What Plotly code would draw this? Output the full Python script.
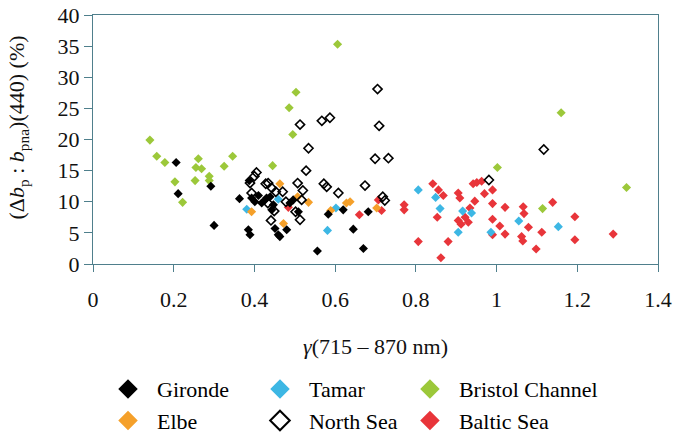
import plotly.graph_objects as go

# ---- data ----
gironde_x = [0.206, 0.211, 0.292, 0.300, 0.363, 0.385, 0.389, 0.387, 0.393, 0.401, 0.410, 0.418, 0.425,
             0.430, 0.439, 0.443, 0.447, 0.451, 0.459, 0.463, 0.480, 0.488, 0.496, 0.509, 0.556,
             0.583, 0.620, 0.645, 0.670, 0.682]
gironde_y = [16.3, 11.3, 12.5, 6.2, 10.5, 5.5, 4.7, 13.4, 10.6, 10.0, 11.0, 9.8, 10.2,
             10.6, 10.8, 8.7, 9.5, 5.7, 4.7, 4.4, 5.5, 9.8, 10.3, 8.4, 2.1,
             8.0, 8.7, 5.6, 2.5, 8.4]

elbe_x = [0.393, 0.463, 0.472, 0.507, 0.534, 0.589, 0.628, 0.637, 0.703]
elbe_y = [8.4, 12.9, 6.5, 10.8, 9.9, 8.6, 9.8, 10.0, 9.0]

tamar_x = [0.381, 0.459, 0.581, 0.602, 0.806, 0.849, 0.860, 0.905, 0.916, 0.938, 0.986, 1.055, 1.153]
tamar_y = [8.8, 10.4, 5.4, 9.0, 11.9, 10.7, 8.9, 5.1, 8.5, 8.2, 5.1, 6.9, 6.0]

northsea_x = [0.389, 0.393, 0.400, 0.405, 0.434, 0.428, 0.433, 0.443, 0.441, 0.449, 0.453, 0.470,
              0.478, 0.502, 0.507, 0.513, 0.517, 0.520, 0.528, 0.534, 0.513, 0.567, 0.587, 0.572,
              0.579, 0.608, 0.674, 0.699, 0.705, 0.709, 0.718, 0.723, 0.732, 0.981, 1.117]
northsea_y = [13.0, 11.4, 14.1, 14.7, 13.0, 12.9, 9.8, 12.2, 7.0, 8.5, 11.6, 11.6,
              10.0, 8.4, 13.0, 7.1, 10.3, 11.8, 15.0, 18.6, 22.4, 23.0, 23.5, 12.9,
              12.4, 11.4, 12.6, 16.9, 28.1, 22.2, 10.8, 10.2, 17.0, 13.5, 18.4]

bristol_x = [0.141, 0.158, 0.178, 0.203, 0.222, 0.253, 0.255, 0.261, 0.269, 0.288, 0.288, 0.325,
             0.346, 0.445, 0.486, 0.495, 0.503, 0.606, 1.002, 1.114, 1.160, 1.322]
bristol_y = [19.9, 17.3, 16.3, 13.2, 9.9, 13.4, 15.5, 16.9, 15.3, 14.1, 13.4, 15.7,
             17.3, 15.8, 25.1, 20.8, 27.6, 35.3, 15.5, 8.9, 24.3, 12.3]

baltic_x = [0.484, 0.660, 0.707, 0.715, 0.771, 0.771, 0.806, 0.842, 0.856, 0.868, 0.853, 0.880,
            0.862, 0.905, 0.909, 0.922, 0.905, 0.912, 0.930, 0.934, 0.942, 0.951, 0.963, 0.946,
            0.970, 0.990, 0.990, 0.990, 0.990, 1.008, 1.021, 1.021, 1.066, 1.068, 1.079, 1.062,
            1.065, 1.098, 1.112, 1.139, 1.194, 1.194, 1.289]
baltic_y = [9.1, 7.9, 10.3, 8.6, 9.5, 8.7, 3.6, 12.9, 11.9, 11.0, 7.5, 3.6,
            1.0, 11.4, 10.6, 7.5, 7.0, 6.4, 6.7, 9.0, 12.9, 13.1, 13.3, 10.1,
            11.3, 11.9, 9.7, 7.2, 4.7, 6.1, 4.8, 9.1, 9.2, 8.1, 5.9, 4.4,
            3.7, 2.4, 5.1, 9.9, 7.6, 3.9, 4.8]

x_ticks = [0, 0.2, 0.4, 0.6, 0.8, 1.0, 1.2, 1.4]
x_ticklabels = ["0", "0.2", "0.4", "0.6", "0.8", "1", "1.2", "1.4"]
y_ticks = [0, 5, 10, 15, 20, 25, 30, 35, 40]

# ---- styles ----
C_GIR = "#000000"
C_ELB = "#F5A02A"
C_TAM = "#3DB7E4"
C_BRI = "#9CC83A"
C_BAL = "#E8353A"
AXC = "#4F7F8C"
FONT = "Times New Roman, Liberation Serif, DejaVu Serif, Noto Serif, serif"
MS = 7

fig = go.Figure()

def add_series(x, y, name, symbol, color, line_color, line_w, legend):
    fig.add_trace(go.Scatter(x=x, y=y, mode="markers", name=name, showlegend=False,
                             marker=dict(symbol=symbol, size=MS, color=color,
                                         line=dict(color=line_color, width=line_w))))
    fig.add_trace(go.Scatter(x=[None], y=[None], mode="markers", name=name, legend=legend,
                             marker=dict(symbol=symbol, size=15, color=color,
                                         line=dict(color=line_color, width=line_w * 1.3))))

add_series(bristol_x, bristol_y, "Bristol Channel", "diamond", C_BRI, C_BRI, 0, "legend3")
add_series(baltic_x, baltic_y, "Baltic Sea", "diamond", C_BAL, C_BAL, 0, "legend3")
add_series(tamar_x, tamar_y, "Tamar", "diamond", C_TAM, C_TAM, 0, "legend2")
add_series(elbe_x, elbe_y, "Elbe", "diamond", C_ELB, C_ELB, 0, "legend")
add_series(gironde_x, gironde_y, "Gironde", "diamond", C_GIR, C_GIR, 0, "legend")
add_series(northsea_x, northsea_y, "North Sea", "diamond-open", "#000000", "#000000", 1.6, "legend2")

# legend ordering inside each column
order = {"Gironde": 1, "Elbe": 2, "Tamar": 1, "North Sea": 2, "Bristol Channel": 1, "Baltic Sea": 2}
for tr in fig.data:
    if tr.showlegend is not False:
        tr.legendrank = order[tr.name]

leg_common = dict(orientation="v", yanchor="top", xanchor="left", y=-0.418,
                  font=dict(family=FONT, size=22, color="#000"), itemwidth=48,
                  bgcolor="rgba(0,0,0,0)", tracegroupgap=0, traceorder="normal")

fig.update_layout(
    width=673, height=433,
    margin=dict(l=93, r=15, t=15, b=169, autoexpand=False),
    paper_bgcolor="white", plot_bgcolor="white",
    font=dict(family=FONT, size=22, color="#111"),
    legend=dict(x=0.0106, **leg_common),
    legend2=dict(x=0.2796, **leg_common),
    legend3=dict(x=0.545, **leg_common),
    xaxis=dict(range=[0, 1.4], tickvals=x_ticks, ticktext=x_ticklabels,
               showgrid=False, zeroline=False, showline=True, linecolor=AXC, linewidth=1.2,
               mirror=True, ticks="outside", ticklen=7, tickcolor=AXC, ticklabelstandoff=8,
               tickfont=dict(family=FONT, size=22, color="#111"),
               title=dict(text="<i>γ</i>(715 – 870 nm)", standoff=28,
                          font=dict(family=FONT, size=22, color="#111"))),
    yaxis=dict(range=[0, 40], tickvals=y_ticks,
               showgrid=False, zeroline=False, showline=True, linecolor=AXC, linewidth=1.2,
               mirror=True, ticks="outside", ticklen=8, tickcolor=AXC,
               tickfont=dict(family=FONT, size=22, color="#111")),
    annotations=[dict(text="(Δ<i>b</i><sub>p</sub> : <i>b</i><sub>pna</sub>)(440) (%)",
                      xref="paper", yref="paper", x=-0.132, y=0.55, xanchor="center",
                      yanchor="middle", textangle=-90, showarrow=False,
                      font=dict(family=FONT, size=22, color="#111"))],
)

fig.write_html("out.html")
